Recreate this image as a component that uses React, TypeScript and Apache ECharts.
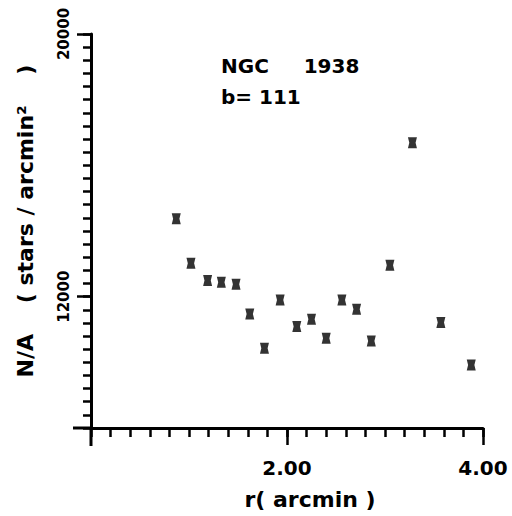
import React, { useEffect, useRef } from "react";
import * as echarts from "echarts";

const radius = [0.87, 1.02, 1.19, 1.33, 1.48, 1.62, 1.77, 1.93, 2.1, 2.25, 2.4, 2.56, 2.71, 2.86, 3.05, 3.28, 3.57, 3.88];
const density = [14370, 13020, 12490, 12440, 12380, 11470, 10430, 11900, 11090, 11310, 10730, 11900, 11620, 10650, 12960, 16690, 11210, 9920];
const yTickLabels = [12000, 20000];
const xTickLabels = [2, 4];
const title1 = "NGC     1938";
const title2 = "b= 111";
const xName = "r( arcmin )";
const yName = "N/A    ( stars / arcmin\u00B2    )";

const FONT = "DejaVu Sans";

export default function App() {
  const ref = useRef<HTMLDivElement>(null);
  useEffect(() => {
    if (!ref.current) return;
    const chart = echarts.init(ref.current, null, { renderer: "svg" });
    const grid = { left: 91, top: 34, width: 392, height: 394 };
    const lineStyle = { color: "#000", width: 3 };
    const tickStyle = { color: "#000", width: 2.5 };
    chart.setOption({
      animation: false,
      backgroundColor: "#fff",
      grid,
      xAxis: [
        {
          type: "value",
          min: 0,
          max: 4,
          interval: 0.2,
          axisLine: { show: true, lineStyle },
          axisTick: { show: true, length: 9, lineStyle: tickStyle },
          splitLine: { show: false },
          axisLabel: {
            interval: 0,
            margin: 30,
            color: "#000",
            fontFamily: FONT,
            fontWeight: "bold",
            fontSize: 20,
            formatter: (v: number) =>
              xTickLabels.some((t) => Math.abs(t - v) < 1e-6) ? v.toFixed(2) : "",
          },
        },
        {
          type: "value",
          min: 0,
          max: 4,
          position: "bottom",
          axisLine: { show: false },
          axisTick: { show: true, length: 17, customValues: xTickLabels, lineStyle: tickStyle },
          axisLabel: { show: false },
          splitLine: { show: false },
        },
      ],
      yAxis: [
        {
          type: "value",
          min: 8000,
          max: 20000,
          interval: 400,
          axisLine: { show: true, lineStyle },
          axisTick: { show: true, length: 8, lineStyle: tickStyle },
          splitLine: { show: false },
          axisLabel: {
            interval: 0,
            rotate: 90,
            margin: 20,
            color: "#000",
            fontFamily: FONT,
            fontWeight: "bold",
            fontSize: 15,
            formatter: (v: number) => (yTickLabels.includes(Math.round(v)) ? String(Math.round(v)) : ""),
          },
        },
        {
          type: "value",
          min: 8000,
          max: 20000,
          position: "left",
          axisLine: { show: false },
          axisTick: { show: true, length: 14, customValues: yTickLabels, lineStyle: tickStyle },
          axisLabel: { show: false },
          splitLine: { show: false },
        },
      ],
      series: [
        {
          type: "scatter",
          xAxisIndex: 0,
          yAxisIndex: 0,
          data: radius.map((r, i) => [r, density[i]]),
          symbol: "path://M0,0 L10,0 L8.5,5 L10,10 L0,10 L1.5,5 Z",
          symbolSize: [9, 11],
          itemStyle: { color: "#000" },
        },
      ],
      graphic: [
        { type: "line", shape: { x1: 73, y1: 428, x2: 91, y2: 428 }, style: { stroke: "#000", lineWidth: 3 } },
        { type: "line", shape: { x1: 91, y1: 428, x2: 91, y2: 446 }, style: { stroke: "#000", lineWidth: 3 } },
        {
          type: "text",
          x: 221,
          y: 66,
          style: { text: title1, font: `bold 20px '${FONT}'`, fill: "#000", verticalAlign: "middle", align: "left" },
        },
        {
          type: "text",
          x: 221,
          y: 97,
          style: { text: title2, font: `bold 20px '${FONT}'`, fill: "#000", verticalAlign: "middle", align: "left" },
        },
        {
          type: "text",
          x: 310,
          y: 499,
          style: { text: xName, font: `bold 22px '${FONT}'`, fill: "#000", verticalAlign: "middle", align: "center" },
        },
        {
          type: "text",
          x: 25,
          y: 221,
          rotation: Math.PI / 2,
          style: { text: yName, font: `bold 22px '${FONT}'`, fill: "#000", verticalAlign: "middle", align: "center" },
        },
      ],
    });
    return () => chart.dispose();
  }, []);
  return <div ref={ref} style={{ position: "fixed", left: 0, top: 0, width: 512, height: 516 }} />;
}
